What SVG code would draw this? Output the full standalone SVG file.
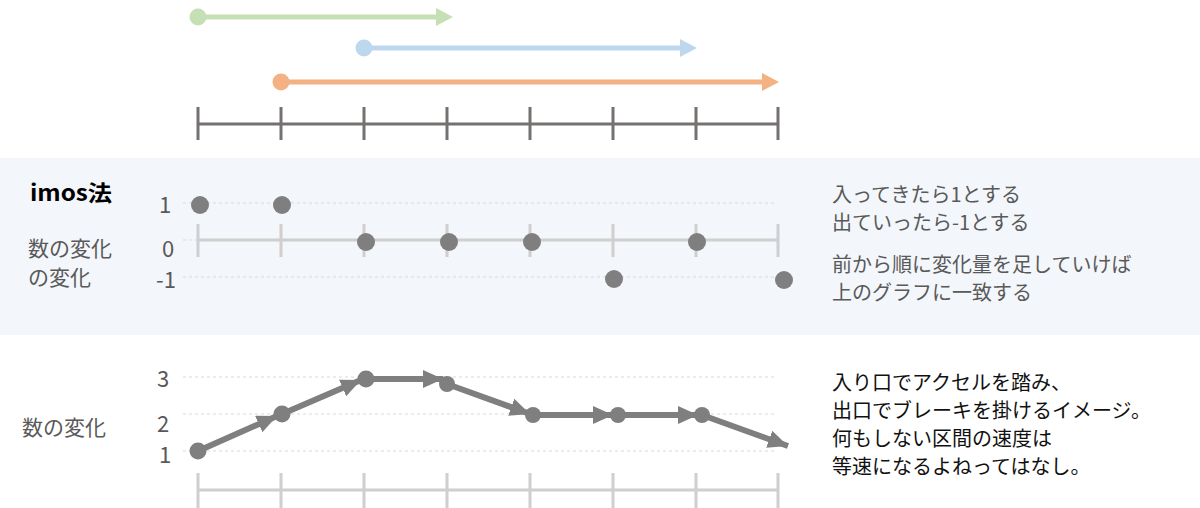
<svg xmlns="http://www.w3.org/2000/svg" width="1200" height="508" viewBox="0 0 1200 508">
<style>
text{font-family:"Noto Sans CJK JP","Noto Sans",sans-serif;}
.lbl{font-size:21px;fill:#595959;}
.num{font-size:22px;fill:#595959;}
.note{font-size:20px;fill:#595959;}
.note2{font-size:20px;fill:#111;}
.grid{stroke:#d9d9d9;stroke-width:1;stroke-dasharray:3 3;fill:none;}
.axl{stroke:#d0cece;stroke-width:3;fill:none;}
.axd{stroke:#767171;stroke-width:3;fill:none;}
.dot{fill:#7f7f7f;}
.seg{stroke:#7f7f7f;stroke-width:6;fill:none;marker-end:url(#ah);}
</style>
<defs>
<marker id="ah" markerUnits="userSpaceOnUse" markerWidth="22" markerHeight="20" refX="20" refY="9" orient="auto">
<path d="M0,0 L20,9 L0,18 Z" fill="#7f7f7f"/>
</marker>
</defs>
<rect width="1200" height="508" fill="#fff"/>

<g id="ranges">
<g id="range-green">
<line x1="198" y1="17" x2="440" y2="17" stroke="#c5e0b4" stroke-width="5"/>
<path d="M436,8 L453,17 L436,26 Z" fill="#c5e0b4"/>
<circle cx="198" cy="17" r="8.5" fill="#c5e0b4"/>
</g>
<g id="range-blue">
<line x1="364" y1="48" x2="684" y2="48" stroke="#bdd7ee" stroke-width="5"/>
<path d="M680,39 L697,48 L680,57 Z" fill="#bdd7ee"/>
<circle cx="364" cy="48" r="8.5" fill="#bdd7ee"/>
</g>
<g id="range-orange">
<line x1="281" y1="82" x2="766" y2="82" stroke="#f4b183" stroke-width="5"/>
<path d="M762,73 L779,82 L762,91 Z" fill="#f4b183"/>
<circle cx="281" cy="82" r="8.5" fill="#f4b183"/>
</g>
</g>

<g id="top-axis" class="axd">
<line x1="198" y1="124" x2="778" y2="124"/>
<path d="M198,107V140M281,107V140M364,107V140M447,107V140M530,107V140M613,107V140M696,107V140M778,107V140"/>
</g>

<rect id="imos-panel" x="0" y="158" width="1200" height="177" fill="#f3f6fa"/>

<g id="imos-chart">
<text x="30" y="201" textLength="82" lengthAdjust="spacingAndGlyphs" style="font-size:22px;font-weight:bold;fill:#000">imos法</text>
<text class="num" x="159" y="213">1</text>
<text class="num" x="162" y="257">0</text>
<text class="num" x="156" y="288">-1</text>
<text class="lbl" x="28" y="256">数の変化</text>
<text class="lbl" x="28" y="285">の変化</text>
<line class="grid" x1="183" y1="203" x2="777" y2="203"/>
<line class="grid" x1="183" y1="240" x2="198" y2="240"/>
<line class="grid" x1="183" y1="277" x2="777" y2="277"/>
<g class="axl">
<line x1="198" y1="240" x2="778" y2="240"/>
<path d="M198,224V257M281,224V257M364,224V257M447,224V257M530,224V257M613,224V257M696,224V257M778,224V257"/>
</g>
<g id="imos-dots" class="dot">
<circle cx="200" cy="205" r="9"/>
<circle cx="282" cy="205" r="9"/>
<circle cx="366" cy="242" r="9"/>
<circle cx="449" cy="242" r="9"/>
<circle cx="532" cy="242" r="9"/>
<circle cx="614" cy="279" r="9"/>
<circle cx="697" cy="242" r="9"/>
<circle cx="784" cy="280" r="9"/>
</g>
</g>

<g id="imos-notes">
<text class="note" x="832" y="202">入ってきたら1とする</text>
<text class="note" x="832" y="230">出ていったら-1とする</text>
<text class="note" x="832" y="272">前から順に変化量を足していけば</text>
<text class="note" x="832" y="300">上のグラフに一致する</text>
</g>

<g id="count-chart">
<text class="num" x="157" y="387">3</text>
<text class="num" x="157" y="432">2</text>
<text class="num" x="159" y="463">1</text>
<text class="lbl" x="22" y="435">数の変化</text>
<line class="grid" x1="183" y1="377" x2="777" y2="377"/>
<line class="grid" x1="183" y1="414" x2="777" y2="414"/>
<line class="grid" x1="183" y1="451" x2="777" y2="451"/>
<g class="axl">
<line x1="198" y1="490" x2="778" y2="490"/>
<path d="M198,473V508M281,473V508M364,473V508M447,473V508M530,473V508M613,473V508M696,473V508M778,473V508"/>
</g>
</g>

<g id="connectors">
<line class="seg" x1="198" y1="451" x2="277" y2="416"/>
<line class="seg" x1="282" y1="414" x2="361" y2="380"/>
<line class="seg" x1="366" y1="379" x2="443" y2="379"/>
<line class="seg" x1="447" y1="384" x2="530" y2="414"/>
<line class="seg" x1="533" y1="415" x2="613" y2="415"/>
<line class="seg" x1="618" y1="415" x2="698" y2="415"/>
<line class="seg" x1="702" y1="415" x2="788" y2="446"/>
</g>

<g id="count-dots" class="dot">
<circle cx="198" cy="451" r="8.5"/>
<circle cx="282" cy="414" r="8.5"/>
<circle cx="366" cy="379" r="8.5"/>
<circle cx="447" cy="384" r="8"/>
<circle cx="533" cy="415" r="8"/>
<circle cx="618" cy="415" r="8"/>
<circle cx="702" cy="415" r="8"/>
</g>

<g id="count-notes">
<text class="note2" x="832" y="390">入り口でアクセルを踏み、</text>
<text class="note2" x="832" y="418">出口でブレーキを掛けるイメージ。</text>
<text class="note2" x="832" y="446">何もしない区間の速度は</text>
<text class="note2" x="832" y="474">等速になるよねってはなし。</text>
</g>
</svg>
